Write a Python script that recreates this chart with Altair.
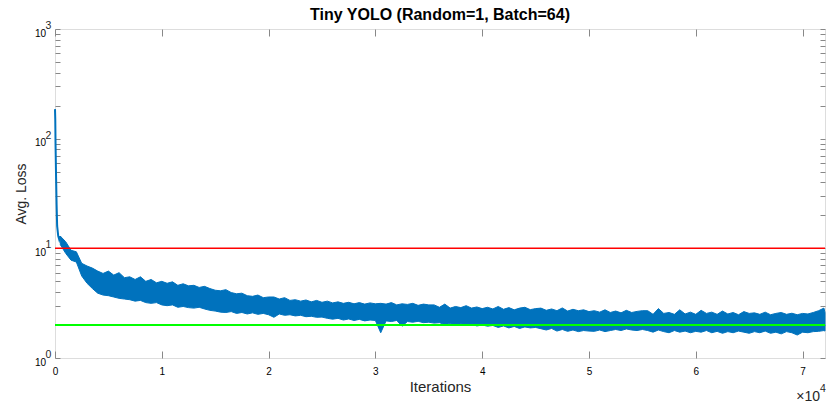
import altair as alt
import pandas as pd

TITLE = "Tiny YOLO (Random=1, Batch=64)"
X_TITLE = "Iterations"
Y_TITLE = "Avg. Loss"
X_MAX = 72100
X_TICKS = [0, 10000, 20000, 30000, 40000, 50000, 60000, 70000]
Y_TICKS = [1, 2, 3, 4, 5, 6, 7, 8, 9, 10, 20, 30, 40, 50, 60, 70, 80, 90,
           100, 200, 300, 400, 500, 600, 700, 800, 900, 1000]
Y_MAJOR = [1, 10, 100, 1000]
Y_EXPONENTS = ["0", "1", "2", "3"]
RED_LEVEL = [10]
GREEN_LEVEL = [2]

# initial spike of the loss curve
SPIKE_ITER = [0, 25, 50, 100, 150, 200, 300, 400, 500]
SPIKE_LOSS = [186, 150, 90, 45, 25, 16, 13, 12, 12.9]

# noisy band: upper / lower envelope read every 500 iterations
BAND_ITER = list(range(500, 72001, 500)) + [72100]
BAND_HIGH = [
    12.9, 11.5, 9.6, 9.3, 7.3, 6.9, 6.6, 6.2, 5.9, 6.2,
    5.7, 6.0, 5.4, 5.5, 5.2, 5.5, 5.0, 5.2, 4.85, 5.0,
    4.8, 4.95, 4.6, 4.75, 4.55, 4.6, 4.4, 4.5, 4.3, 4.15,
    4.1, 4.2, 3.95, 3.85, 3.9, 3.7, 3.65, 3.75, 3.55, 3.6,
    3.6, 3.45, 3.55, 3.35, 3.4, 3.3, 3.38, 3.25, 3.35, 3.22,
    3.3, 3.18, 3.25, 3.15, 3.22, 3.12, 3.2, 3.1, 3.18, 3.12,
    3.15, 3.1, 3.2, 3.05, 3.12, 3.08, 3.15, 3.02, 3.1, 3.05,
    3.05, 2.9, 3.1, 2.85, 2.95, 2.88, 3.0, 2.85, 2.92, 2.82,
    2.9, 2.8, 2.95, 2.78, 2.88, 2.75, 2.85, 2.9, 2.76, 2.82,
    2.85, 2.72, 2.8, 2.7, 2.86, 2.68, 2.78, 2.7, 2.75, 2.65,
    2.7, 2.62, 2.75, 2.6, 2.68, 2.58, 2.72, 2.6, 2.66, 2.7,
    2.7, 2.5, 2.82, 2.55, 2.6, 2.5, 2.75, 2.52, 2.62, 2.5,
    2.72, 2.55, 2.62, 2.5, 2.68, 2.52, 2.6, 2.48, 2.65, 2.55,
    2.58, 2.5, 2.62, 2.48, 2.55, 2.6, 2.5, 2.56, 2.48, 2.55,
    2.52, 2.6, 2.7, 2.85, 2.6,
]
BAND_LOW = [
    10.8, 9.0, 7.8, 7.5, 5.6, 4.8, 4.3, 3.9, 3.75, 3.7,
    3.6, 3.5, 3.45, 3.4, 3.3, 3.35, 3.2, 3.15, 3.2, 3.05,
    3.0, 3.05, 2.9, 2.95, 2.88, 2.85, 2.9, 2.8, 2.72, 2.68,
    2.62, 2.6, 2.65, 2.55, 2.6, 2.52, 2.58, 2.5, 2.55, 2.48,
    2.35, 2.52, 2.45, 2.48, 2.42, 2.45, 2.38, 2.4, 2.35, 2.36,
    2.3, 2.26, 2.3, 2.22, 2.27, 2.2, 2.25, 2.18, 2.22, 2.2,
    1.7, 2.18, 2.15, 2.2, 1.95, 2.15, 2.12, 2.16, 2.1, 2.12,
    2.08, 2.1, 2.02, 2.06, 1.98, 2.05, 2.0, 2.03, 1.96, 2.0,
    1.95, 1.98, 1.9, 1.96, 1.88, 1.94, 1.86, 1.92, 1.88, 1.9,
    1.85, 1.8, 1.86, 1.76, 1.82, 1.75, 1.8, 1.74, 1.78, 1.76,
    1.75, 1.8, 1.74, 1.78, 1.82, 1.78, 1.84, 1.8, 1.78, 1.82,
    1.78, 1.72, 1.8, 1.74, 1.7, 1.78, 1.72, 1.76, 1.7, 1.75,
    1.72, 1.78, 1.7, 1.75, 1.68, 1.74, 1.7, 1.76, 1.72, 1.68,
    1.74, 1.7, 1.76, 1.68, 1.72, 1.66, 1.74, 1.7, 1.62, 1.72,
    1.7, 1.74, 1.75, 1.78, 1.76,
]
assert len(BAND_ITER) == len(BAND_HIGH) == len(BAND_LOW)

FONT = "Liberation Sans"
BLUE = "#0072BD"
AXIS_GRAY = "#8c8c8c"
TEXT = "#262626"

band = pd.DataFrame({"iter": BAND_ITER, "hi": BAND_HIGH, "lo": BAND_LOW})
spike = pd.DataFrame({"iter": SPIKE_ITER, "loss": SPIKE_LOSS})
exps = pd.DataFrame({"v": Y_MAJOR, "e": Y_EXPONENTS})

xscale = alt.Scale(domain=[0, X_MAX], nice=False, zero=False)
yscale = alt.Scale(type="log", domain=[1, 1000], nice=False)

y_lab = "indexof([1,10,100,1000], datum.value) >= 0 ? '10' : ''"

area = alt.Chart(band).mark_area(color=BLUE, opacity=1, stroke=BLUE, strokeWidth=1,
                                 strokeJoin="miter").encode(
    x=alt.X("iter:Q", scale=xscale,
            axis=alt.Axis(orient="bottom", values=X_TICKS, labelExpr="datum.value / 10000",
                          title=X_TITLE, tickSize=7, offset=-7, labelPadding=8,
                          labelFlush=False, labelOverlap=False, domain=False, grid=False,
                          titleFontSize=15, titlePadding=3, titleFontWeight="normal",
                          titleColor=TEXT)),
    y=alt.Y("lo:Q", scale=yscale,
            axis=alt.Axis(orient="left", values=Y_TICKS, labelExpr=y_lab, tickSize=5,
                          offset=-5, labelPadding=9.5, labelFlush=False, labelOverlap=False,
                          labelBaseline="middle", labelOffset=4, domain=False, grid=False,
                          title=Y_TITLE, titleFontSize=14, titlePadding=6,
                          titleFontWeight="normal", titleColor=TEXT)),
    y2="hi:Q",
)

spike_line = alt.Chart(spike).mark_line(color=BLUE, strokeWidth=2).encode(
    x=alt.X("iter:Q", scale=xscale,
            axis=alt.Axis(orient="top", values=X_TICKS, labels=False, title=None,
                          tickSize=7, offset=-7, domain=False, grid=False)),
    y=alt.Y("loss:Q", scale=yscale,
            axis=alt.Axis(orient="right", values=Y_TICKS, labels=False, title=None,
                          tickSize=5, offset=-5, domain=False, grid=False)),
)

red = alt.Chart(pd.DataFrame({"v": RED_LEVEL})).mark_rule(color="#FF0000", strokeWidth=1.5).encode(
    y=alt.Y("v:Q", scale=yscale, axis=None))
green = alt.Chart(pd.DataFrame({"v": GREEN_LEVEL})).mark_rule(color="#00FF00", strokeWidth=2).encode(
    y=alt.Y("v:Q", scale=yscale, axis=None))

exp_text = alt.Chart(exps).mark_text(align="left", baseline="alphabetic", dx=-9.5, dy=0,
                                     fontSize=10.5, font=FONT, color=TEXT).encode(
    x=alt.XDatum(0, axis=None),
    y=alt.Y("v:Q", scale=yscale, axis=None),
    text="e:N",
)

mult = alt.Chart(pd.DataFrame({"t": ["\u00d710"]})).mark_text(
    align="right", baseline="alphabetic", dx=-5, dy=43, fontSize=14, font=FONT, color=TEXT
).encode(x=alt.XDatum(X_MAX, axis=None), y=alt.YDatum(1, axis=None), text="t:N")
mult_exp = alt.Chart(pd.DataFrame({"t": ["4"]})).mark_text(
    align="left", baseline="alphabetic", dx=-5, dy=34, fontSize=10.5, font=FONT, color=TEXT
).encode(x=alt.XDatum(X_MAX, axis=None), y=alt.YDatum(1, axis=None), text="t:N")

chart = alt.layer(area, spike_line, red, green, exp_text, mult, mult_exp).properties(
    width=770, height=329,
    title=alt.TitleParams(TITLE, fontSize=16, fontWeight="bold", font=FONT, color="#000000",
                          offset=5, dy=7, anchor="middle"),
    autosize=alt.AutoSizeParams(type="none"),
    padding={"left": 55, "top": 29, "right": 1, "bottom": 47},
).configure_axis(
    labelFont=FONT, labelFontSize=14, labelColor=TEXT, titleFont=FONT,
    tickColor=AXIS_GRAY, tickWidth=1,
).configure_view(stroke=AXIS_GRAY, strokeWidth=1).configure(background="white")

chart.save("out.html", embed_options={"renderer": "svg", "actions": False})
